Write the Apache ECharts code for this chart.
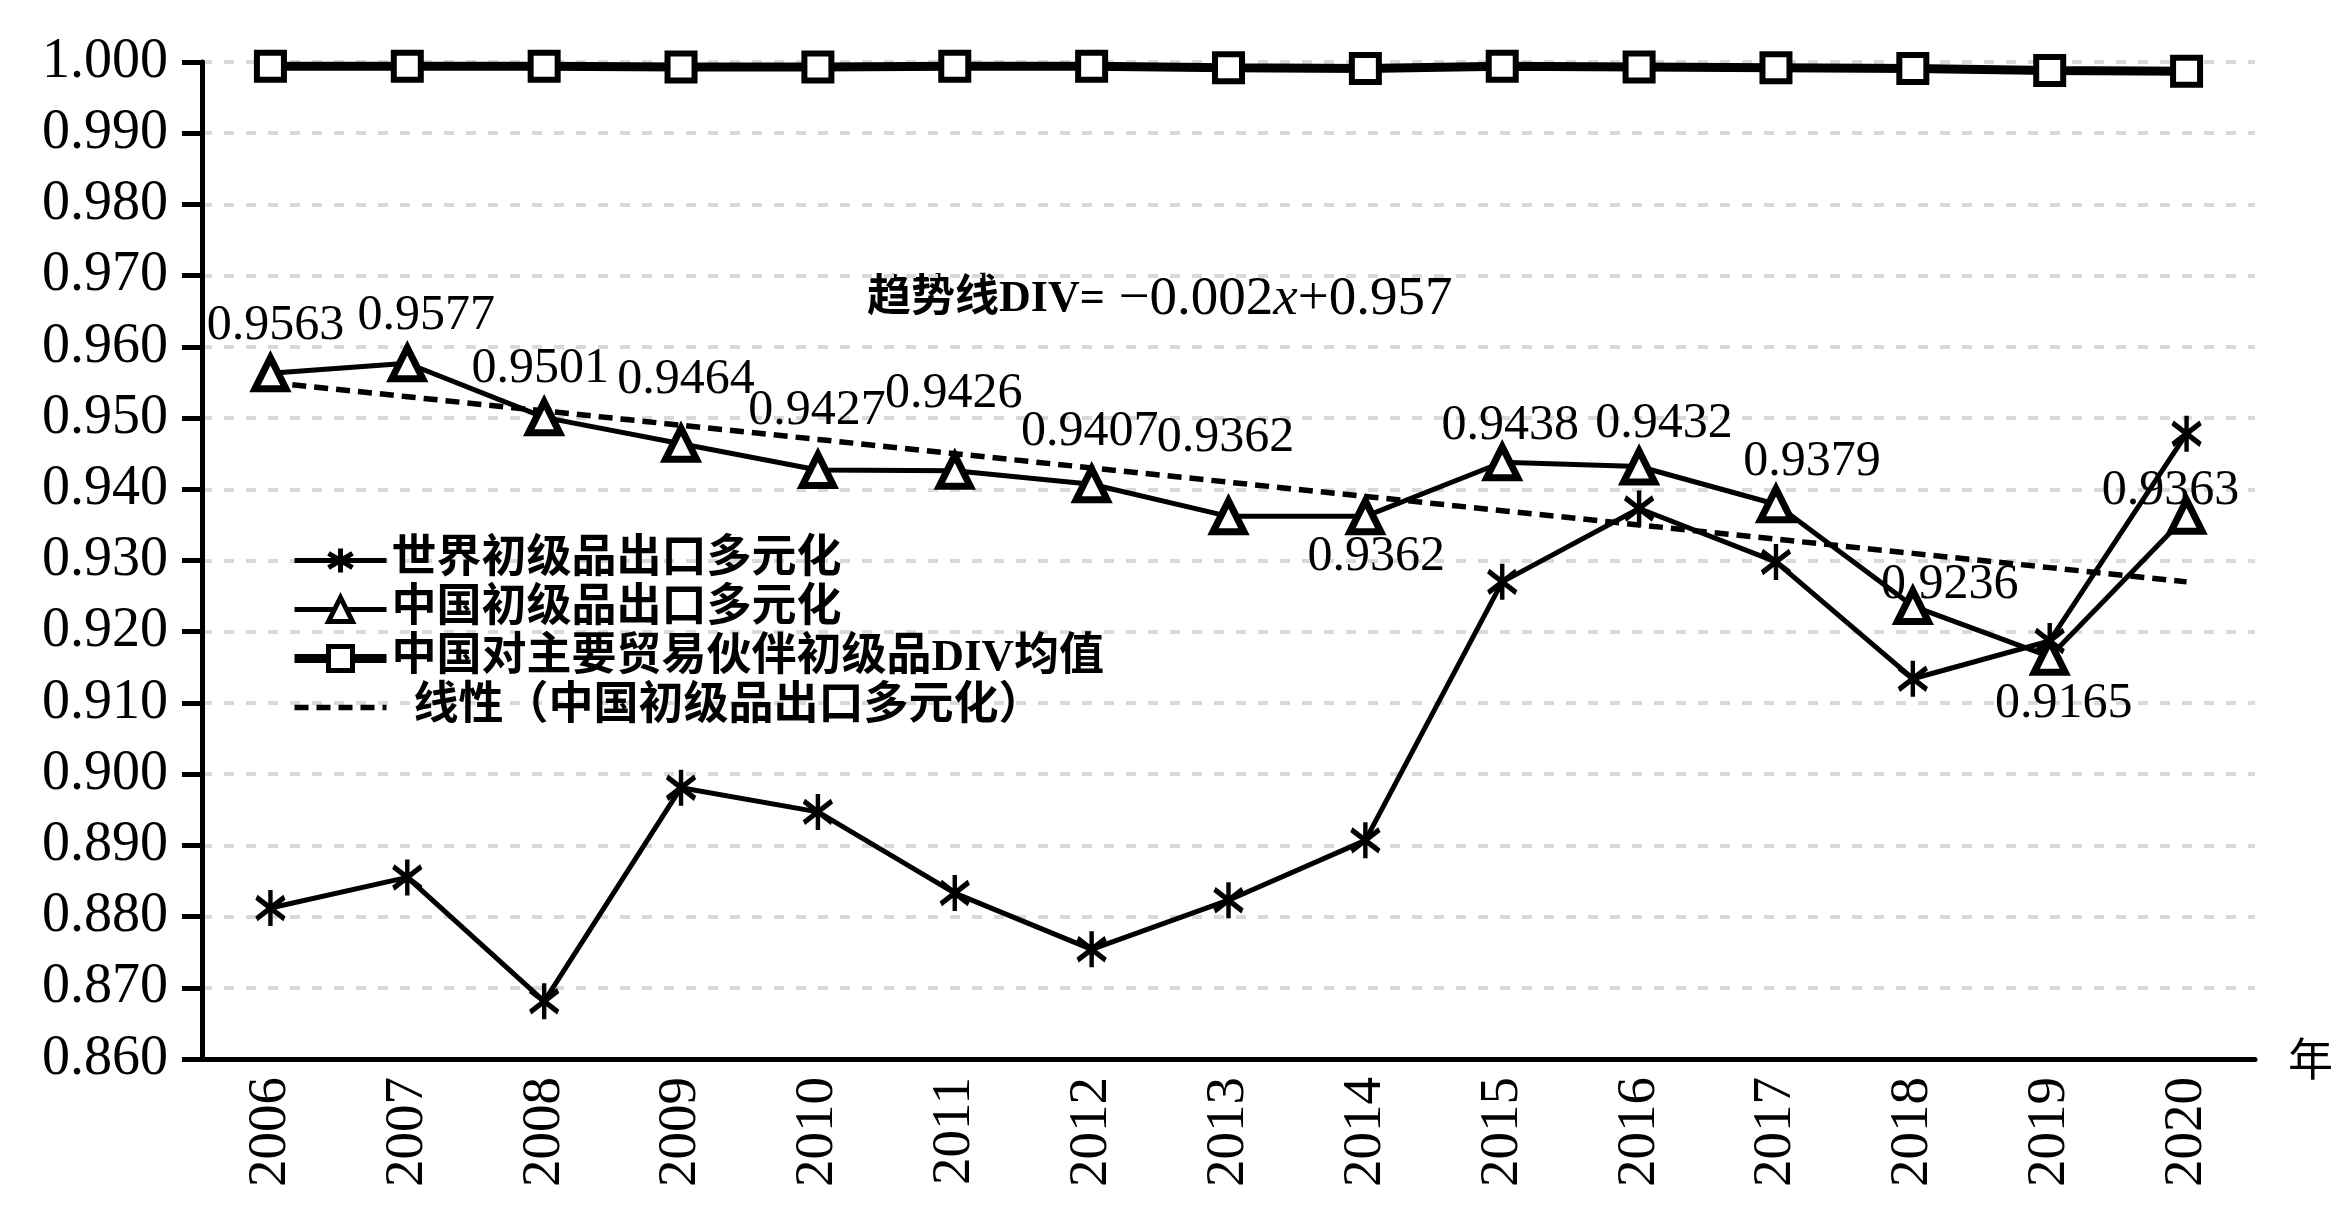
<!DOCTYPE html>
<html>
<head>
<meta charset="utf-8">
<script src="https://cdn.jsdelivr.net/npm/echarts@6/dist/echarts.min.js"></script>
<style>
  html, body { margin: 0; padding: 0; background: #fff; }
  #chart { width: 2350px; height: 1210px; }
</style>
</head>
<body>
<div id="chart"></div>
<script>
const years = ["2006", "2007", "2008", "2009", "2010", "2011", "2012", "2013", "2014", "2015", "2016", "2017", "2018", "2019", "2020"];
const worldDiv = [0.8812, 0.8855, 0.8681, 0.8981, 0.8947, 0.8833, 0.8754, 0.8823, 0.8907, 0.9270, 0.9373, 0.9298, 0.9134, 0.9187, 0.9478];
const chinaDiv = [0.9563, 0.9577, 0.9501, 0.9464, 0.9427, 0.9426, 0.9407, 0.9362, 0.9362, 0.9438, 0.9432, 0.9379, 0.9236, 0.9165, 0.9363];
const partnerDiv = [0.9994, 0.9994, 0.9994, 0.9993, 0.9993, 0.9994, 0.9994, 0.9992, 0.9991, 0.9994, 0.9993, 0.9992, 0.9991, 0.9988, 0.9987];
const trendDiv = [0.955, 0.953, 0.951, 0.949, 0.947, 0.945, 0.943, 0.941, 0.939, 0.937, 0.935, 0.933, 0.931, 0.929, 0.927];
const yTicks = { min: 0.86, max: 1.0, step: 0.01 };

const names = ["世界初级品出口多元化", "中国初级品出口多元化", "中国对主要贸易伙伴初级品DIV均值", "线性（中国初级品出口多元化）"];

// label nudges for the china series (px, relative to the point)
const labelOffsets = [[5, -47], [19, -47], [-4, -48], [5, -64], [-1, -59], [-1, -77], [-2, -52], [-3, -78], [11, 41], [8, -36], [25, -43], [36, -42], [37, -21], [14, 47], [-16, -25]];

const serif = '"Liberation Serif", "Times New Roman", serif';
const mixed = '"Liberation Serif", "Noto Sans CJK SC", sans-serif';
const asterisk = "path://M10,0L10,20M2,4L18,16M2,16L18,4";

const chart = echarts.init(document.getElementById("chart"));

chart.setOption({
  animation: false,
  backgroundColor: "#fff",
  grid: { left: 202, right: 95, top: 62, bottom: 151 },
  legend: {
    orient: "vertical",
    left: 285,
    top: 533,
    itemWidth: 92,
    itemHeight: 30,
    itemGap: 4,
    lineStyle: { width: "inherit" },
    itemStyle: { borderWidth: 5 },
    textStyle: { fontFamily: mixed, fontWeight: "bold", fontSize: 45, lineHeight: 45, color: "#000" },
    data: [
      names[0],
      names[1],
      names[2],
      { name: names[3], itemStyle: { opacity: 0 }, textStyle: { padding: [0, 0, 0, 22] } },
    ],
  },
  graphic: [
    {
      type: "text",
      left: 867,
      top: 272,
      style: {
        text: "{a|趋势线DIV=}{b| −0.002}{c|x}{b|+0.957}",
        rich: {
          a: { fontFamily: mixed, fontWeight: "bold", fontSize: 44, fill: "#000" },
          b: { fontFamily: serif, fontSize: 55, fill: "#000" },
          c: { fontFamily: serif, fontStyle: "italic", fontSize: 55, fill: "#000" },
        },
      },
    },
  ],
  xAxis: {
    type: "category",
    data: years,
    boundaryGap: true,
    name: "年",
    nameLocation: "end",
    nameGap: 33,
    nameTextStyle: { fontFamily: '"Noto Sans CJK SC"', fontSize: 45, color: "#000", padding: [72, 0, 0, 0] },
    axisLine: { lineStyle: { color: "#000", width: 5 } },
    axisTick: { alignWithLabel: true, length: 12, lineStyle: { color: "#000", width: 5 } },
    axisLabel: { rotate: 90, margin: 18, fontFamily: serif, fontSize: 55, color: "#000" },
    splitLine: { show: false },
  },
  yAxis: {
    type: "value",
    min: yTicks.min,
    max: yTicks.max,
    interval: yTicks.step,
    axisLine: { show: true, lineStyle: { color: "#000", width: 5 } },
    axisTick: { show: true, length: 20, lineStyle: { color: "#000", width: 5 } },
    axisLabel: {
      margin: 34,
      fontFamily: serif,
      fontSize: 56,
      color: "#000",
      formatter: (v) => v.toFixed(3),
    },
    splitLine: { lineStyle: { color: "#d9d9d9", width: 4, type: [10, 12] } },
  },
  series: [
    {
      name: names[0],
      type: "line",
      data: worldDiv,
      symbol: asterisk,
      symbolSize: [28, 36],
      lineStyle: { color: "#000", width: 5 },
      itemStyle: { color: "#000", borderColor: "#000", borderWidth: 5 },
      z: 3,
    },
    {
      name: names[1],
      type: "line",
      data: chinaDiv.map((v, i) => ({
        value: v,
        label: { offset: labelOffsets[i] },
      })),
      symbol: "triangle",
      symbolSize: 31,
      lineStyle: { color: "#000", width: 5 },
      itemStyle: { color: "#fff", borderColor: "#000", borderWidth: 7 },
      label: {
        show: true,
        position: "inside",
        fontFamily: serif,
        fontSize: 50,
        color: "#000",
        formatter: (p) => p.value.toFixed(4),
      },
      z: 4,
    },
    {
      name: names[2],
      type: "line",
      data: partnerDiv,
      symbol: "rect",
      symbolSize: 27,
      lineStyle: { color: "#000", width: 9 },
      itemStyle: { color: "#fff", borderColor: "#000", borderWidth: 6 },
      z: 3,
    },
    {
      name: names[3],
      type: "line",
      data: trendDiv,
      symbol: "none",
      showSymbol: false,
      lineStyle: { color: "#000", width: 5.5, type: [14, 8] },
      itemStyle: { color: "#000" },
      z: 2,
    },
  ],
});

window.addEventListener("resize", () => {
  chart.resize();
});
</script>
</body>
</html>
